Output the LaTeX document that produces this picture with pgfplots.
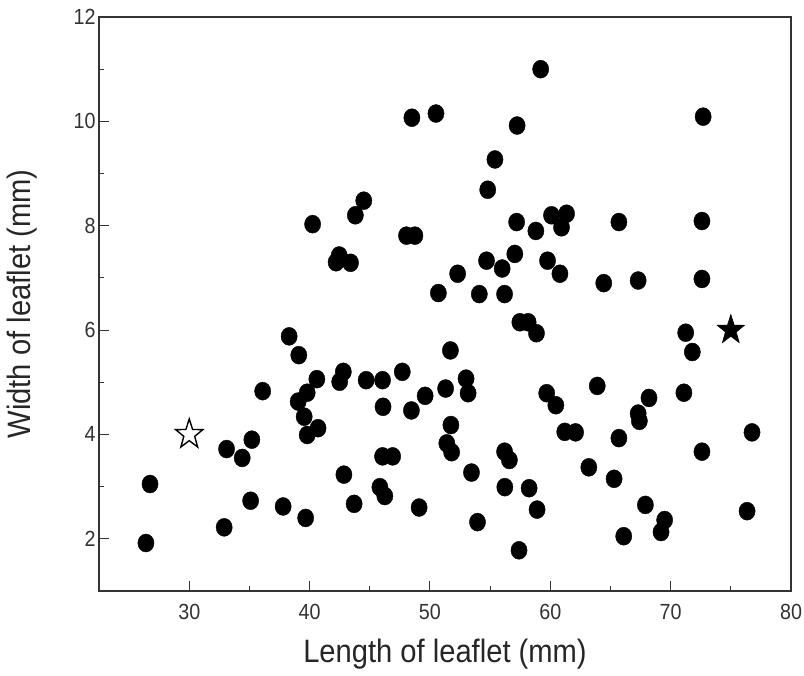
\documentclass[border=0pt]{standalone}
\usepackage{fontspec}
\setmainfont{Liberation Sans}[FakeStretch=0.9]
\usepackage{pgfplots}
\pgfplotsset{compat=1.18}

% five-pointed star mark
\pgfdeclareplotmark{fstar}{%
  \pgfpathmoveto{\pgfpointpolar{90}{\pgfplotmarksize}}%
  \pgfpathlineto{\pgfpointpolar{126}{0.4\pgfplotmarksize}}%
  \pgfpathlineto{\pgfpointpolar{162}{\pgfplotmarksize}}%
  \pgfpathlineto{\pgfpointpolar{198}{0.4\pgfplotmarksize}}%
  \pgfpathlineto{\pgfpointpolar{234}{\pgfplotmarksize}}%
  \pgfpathlineto{\pgfpointpolar{270}{0.4\pgfplotmarksize}}%
  \pgfpathlineto{\pgfpointpolar{306}{\pgfplotmarksize}}%
  \pgfpathlineto{\pgfpointpolar{342}{0.4\pgfplotmarksize}}%
  \pgfpathlineto{\pgfpointpolar{18}{\pgfplotmarksize}}%
  \pgfpathlineto{\pgfpointpolar{54}{0.4\pgfplotmarksize}}%
  \pgfpathclose
  \pgfusepathqfillstroke
}

\begin{document}
\begin{tikzpicture}
\useasboundingbox (-99bp,-85bp) rectangle (705bp,591bp);
\begin{axis}[
  scale only axis,
  width=692bp, height=574bp,
  xmin=22.5, xmax=80, ymin=1, ymax=12,
  xtick={30,40,...,80}, ytick={2,4,...,12},
  minor x tick num=1, minor y tick num=1,
  xtick pos=bottom, ytick pos=left,
  tick align=inside,
  major tick length=10bp, minor tick length=5bp,
  axis line style={line width=1.2bp, black!80},
  every tick/.style={black!80, line width=1bp},
  /pgf/number format/assume math mode=true,
  tick label style={font=\fontsize{22}{24}\selectfont, color=black!80},
  xticklabel style={yshift=-10bp},
  xlabel={Length of leaflet (mm)},
  ylabel={Width of leaflet (mm)},
  every axis x label/.style={at={(axis description cs:0.5,-0.110)}, anchor=center,
    font=\fontsize{32.5}{36}\selectfont, color=black!85},
  every axis y label/.style={at={(axis description cs:-0.111,0.5)}, anchor=center, rotate=90,
    font=\fontsize{32.5}{36}\selectfont, color=black!85},
  clip=false,
]
% leaflets (filled circles)
\addplot[only marks, mark=*, mark size=9bp, black, mark options={xscale=0.9}] coordinates {
  (48.5,10.07) (50.5,10.15) (44.5,8.48) (43.8,8.2) (40.25,8.03)
  (48.05,7.81) (48.75,7.81) (42.46,7.43) (42.2,7.30) (43.4,7.29)
  (50.7,6.71) (59.2,11.0) (72.7,10.09) (57.24,9.92) (55.4,9.27)
  (54.8,8.69) (57.2,8.07) (58.8,7.90) (60.1,8.2) (61.35,8.23)
  (60.93,7.97) (65.7,8.07) (72.6,8.09) (72.6,6.98) (54.7,7.33)
  (56.0,7.18) (57.05,7.46) (59.77,7.33) (60.8,7.08) (52.3,7.08)
  (64.44,6.90) (67.3,6.95) (54.1,6.69) (56.2,6.69) (57.47,6.15)
  (58.16,6.15) (58.85,5.94) (71.25,5.95) (71.8,5.58) (51.7,5.61)
  (51.3,4.88) (53.0,5.07) (53.17,4.79) (59.7,4.79) (60.46,4.56)
  (63.9,4.93) (68.2,4.70) (67.3,4.40) (67.4,4.26) (71.1,4.80)
  (61.2,4.05) (62.1,4.04) (65.7,3.93) (76.76,4.04) (51.74,4.18)
  (51.4,3.83) (51.8,3.66) (56.2,3.67) (56.6,3.51) (53.45,3.27)
  (63.2,3.37) (65.3,3.15) (72.6,3.67) (56.22,2.99) (58.24,2.97)
  (58.9,2.56) (53.95,2.32) (57.4,1.78) (67.9,2.65) (69.5,2.36)
  (69.2,2.13) (66.1,2.05) (76.35,2.53) (38.3,5.88) (39.1,5.52)
  (36.1,4.83) (40.6,5.06) (42.8,5.20) (42.5,5.01) (44.7,5.04)
  (46.06,5.04) (47.7,5.20) (39.8,4.80) (39.05,4.63) (39.55,4.34)
  (40.7,4.12) (39.8,3.99) (46.1,4.53) (48.46,4.46) (49.6,4.74)
  (33.1,3.72) (34.4,3.55) (35.2,3.90) (46.06,3.58) (46.9,3.58)
  (42.85,3.23) (26.74,3.05) (26.4,1.92) (32.9,2.22) (35.1,2.73)
  (37.8,2.62) (39.67,2.40) (43.7,2.67) (45.84,2.99) (46.25,2.82)
  (49.1,2.60)
};
% open star
\addplot[only marks, mark=fstar, mark size=15.5bp, black,
  mark options={fill=white, line width=1.4bp, xscale=0.92}] coordinates {(30,4)};
% filled star
\addplot[only marks, mark=fstar, mark size=15.5bp, black,
  mark options={fill=black, line width=0.6bp, xscale=0.92}] coordinates {(75,6)};
\end{axis}
\end{tikzpicture}
\end{document}
